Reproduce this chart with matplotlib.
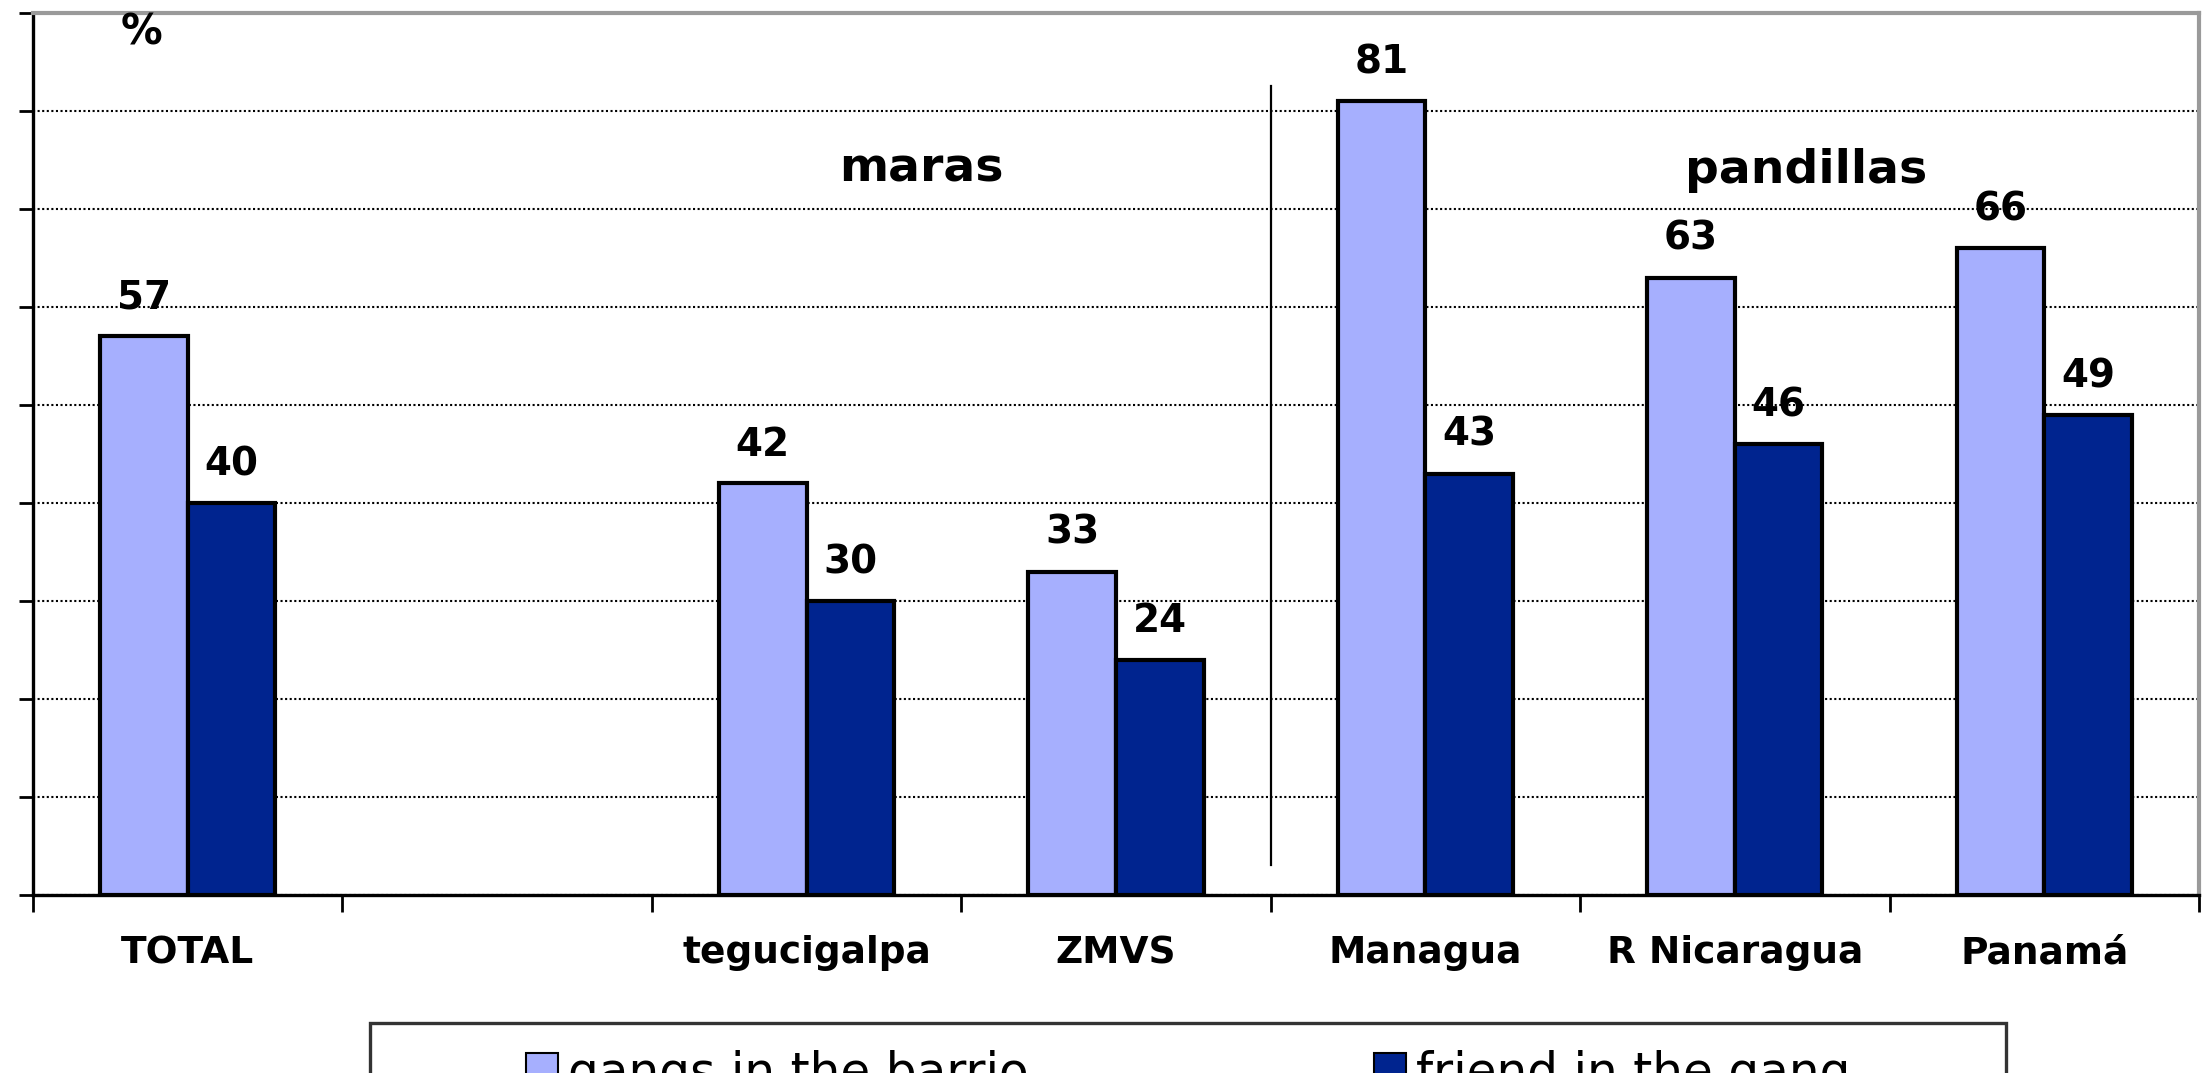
import numpy as np
import matplotlib
matplotlib.use("Agg")
import matplotlib.pyplot as plt
from matplotlib.patches import Rectangle

# ---- data ----
categories = ["TOTAL", "", "tegucigalpa", "ZMVS", "Managua", "R Nicaragua", "Panamá"]
gangs_in_barrio = [57, np.nan, 42, 33, 81, 63, 66]
friend_in_gang = [40, np.nan, 30, 24, 43, 46, 49]
series_names = ["gangs in the barrio", "friend in the gang"]
group_labels = ["maras", "pandillas"]

light = "#A6AFFE"
dark = "#00248F"

W, H = 2203, 1073
fig = plt.figure(figsize=(W / 100, H / 100), dpi=100)
ax = fig.add_axes([33 / W, 1 - 895 / H, (2199 - 33) / W, (895 - 13) / H])

x = np.arange(len(categories))
bw = 0.283
b1 = ax.bar(x - bw / 2, gangs_in_barrio, bw, color=light, edgecolor="black",
            linewidth=3.0, zorder=3, label=series_names[0])
b2 = ax.bar(x + bw / 2, friend_in_gang, bw, color=dark, edgecolor="black",
            linewidth=3.0, zorder=3, label=series_names[1])

for bars, vals in ((b1, gangs_in_barrio), (b2, friend_in_gang)):
    for rect, v in zip(bars, vals):
        if np.isnan(v):
            continue
        ax.annotate(f"{v:.0f}", (rect.get_x() + rect.get_width() / 2, v),
                    xytext=(0, 20), textcoords="offset points",
                    ha="center", va="baseline", fontsize=28,
                    fontweight="bold", color="black", zorder=4)

ax.set_xlim(-0.5, len(categories) - 0.5)
ax.set_ylim(0, 90)

# y axis
ax.set_yticks(np.arange(0, 91, 10))
ax.set_yticklabels([])
ax.tick_params(axis="y", length=10, width=2, direction="out", color="black")
ax.yaxis.grid(True, linestyle=(0, (1, 1.2)), color="black", linewidth=1.5, zorder=0)
ax.set_axisbelow(True)

# x axis: labels at centres, ticks at boundaries
ax.set_xticks(x)
ax.set_xticklabels(categories, fontsize=27, fontweight="bold")
ax.set_xticks(np.arange(-0.5, len(categories), 1.0), minor=True)
ax.tick_params(axis="x", which="major", length=0, pad=29)
ax.tick_params(axis="x", which="minor", length=12, width=2, color="black")

for s in ("left", "bottom"):
    ax.spines[s].set_color("black")
    ax.spines[s].set_linewidth(2.4)
for s in ("top", "right"):
    ax.spines[s].set_color("#9a9a9a")
    ax.spines[s].set_linewidth(3)

# separator between groups
ax.plot([3.5, 3.5], [3.1, 82.5], color="black", linewidth=1.6, zorder=2)

ax.text(-0.15, 88.0, "%", ha="center", va="center", fontsize=30,
        fontweight="bold", zorder=5)
ax.text(2.37, 72.8, group_labels[0], ha="center", va="baseline", fontsize=34,
        fontweight="bold")
ax.text(5.23, 72.7, group_labels[1], ha="center", va="baseline", fontsize=34,
        fontweight="bold")

# legend frame
fig.patches.append(Rectangle((370 / W, -0.05), (2006 - 370) / W, 0.05 + (1 - 1023 / H),
                             transform=fig.transFigure, facecolor="white",
                             edgecolor="#333333", linewidth=2.4, zorder=0))
leg = fig.legend(handles=[b1, b2], labels=series_names, loc="upper left",
                 bbox_to_anchor=(526 / W, 1 - 1050 / H), ncol=2, frameon=False,
                 fontsize=35, handlelength=0.65, handleheight=0.75,
                 handletextpad=0.22, columnspacing=7.1, borderpad=0,
                 borderaxespad=0)
for h in leg.legend_handles:
    h.set_linewidth(1.5)

fig.savefig("out.png", dpi=100)
